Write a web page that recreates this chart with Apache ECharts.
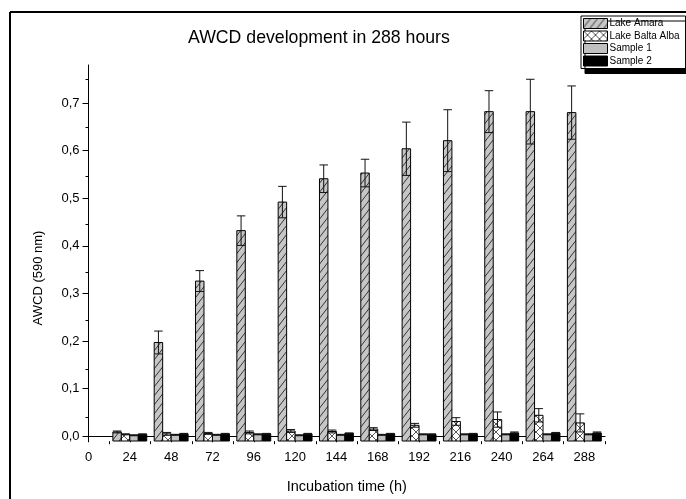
<!DOCTYPE html>
<html><head><meta charset="utf-8">
<script src="https://cdn.jsdelivr.net/npm/echarts@6/dist/echarts.min.js"></script>
<style>html,body{margin:0;padding:0;background:#fff}#c{width:686px;height:499px}</style>
</head><body><div id="c"></div>
<script>
// ---- data ----
const hours = [24, 48, 72, 96, 120, 144, 168, 192, 216, 240, 264, 288];
const xTickLabels = [0, 24, 48, 72, 96, 120, 144, 168, 192, 216, 240, 264, 288];
const xMinorTicks = [12, 36, 60, 84, 108, 132, 156, 180, 204, 228, 252, 276, 300];
const yTickLabels = [0, 0.1, 0.2, 0.3, 0.4, 0.5, 0.6, 0.7];
const yMinorTicks = [0.05, 0.15, 0.25, 0.35, 0.45, 0.55, 0.65, 0.75];

const lakeAmara      = [0.009, 0.197, 0.326, 0.432, 0.492, 0.541, 0.553, 0.604, 0.621, 0.682, 0.682, 0.680];
const lakeAmaraErr   = [0.002, 0.024, 0.022, 0.031, 0.033, 0.029, 0.029, 0.056, 0.065, 0.044, 0.068, 0.056];
const lakeBalta      = [0.004, 0.005, 0.006, 0.008, 0.011, 0.010, 0.015, 0.023, 0.031, 0.035, 0.044, 0.028];
const lakeBaltaErr   = [0.001, 0.003, 0.002, 0.003, 0.003, 0.003, 0.003, 0.004, 0.008, 0.016, 0.014, 0.019];
const sample1        = [0.002, 0.003, 0.003, 0.004, 0.002, 0.003, 0.003, 0.004, 0.004, 0.004, 0.004, 0.004];
const sample1Err     = [0.001, 0.001, 0.001, 0.001, 0.001, 0.001, 0.001, 0.001, 0.001, 0.001, 0.001, 0.001];
const sample2        = [0.004, 0.005, 0.005, 0.005, 0.005, 0.006, 0.005, 0.004, 0.005, 0.007, 0.007, 0.007];
const sample2Err     = [0.001, 0.001, 0.001, 0.001, 0.001, 0.001, 0.001, 0.001, 0.001, 0.002, 0.001, 0.002];

const seriesNames = ['Lake Amara', 'Lake Balta Alba', 'Sample 1', 'Sample 2'];

// ---- patterns ----
function hatch() {
  const c = document.createElement('canvas'); c.width = 7; c.height = 9;
  const g = c.getContext('2d');
  g.fillStyle = '#c6c6c6'; g.fillRect(0, 0, 7, 9);
  g.strokeStyle = '#333'; g.lineWidth = 1;
  g.beginPath();
  g.moveTo(-7, 9); g.lineTo(0, 0);
  g.moveTo(0, 9); g.lineTo(7, 0);
  g.moveTo(7, 9); g.lineTo(14, 0);
  g.stroke();
  return { image: c, repeat: 'repeat' };
}
function cross() {
  const c = document.createElement('canvas'); c.width = 8; c.height = 8;
  const g = c.getContext('2d');
  g.fillStyle = '#fff'; g.fillRect(0, 0, 8, 8);
  g.strokeStyle = '#555'; g.lineWidth = 1;
  g.beginPath();
  g.moveTo(0, 0); g.lineTo(8, 8);
  g.moveTo(0, 8); g.lineTo(8, 0);
  g.stroke();
  return { image: c, repeat: 'repeat' };
}
const fills = [hatch(), cross(), '#c0c0c0', '#000'];
const yMin = -0.01, yMax = 0.78;

function makeRender(k, fill) {
  return function (params, api) {
    const x = api.value(0), v = api.value(1), e = api.value(2);
    const band = api.size([24, 0])[0];
    const w = band * 0.205;
    const p = api.coord([x, v]);
    const left = p[0] - 2 * w + k * w;
    const top = p[1];
    const base = api.coord([x, yMin])[1];
    const hi = api.coord([x, v + e])[1];
    const lo = api.coord([x, v - e])[1];
    const mid = left + w / 2;
    const ls = { stroke: '#111', lineWidth: 1 };
    return {
      type: 'group', children: [
        { type: 'rect', shape: { x: left, y: top, width: w, height: base - top }, style: { fill: fill, stroke: '#000', lineWidth: 1 } },
        { type: 'line', shape: { x1: mid, y1: lo, x2: mid, y2: hi }, style: ls },
        { type: 'line', shape: { x1: left, y1: hi, x2: left + w, y2: hi }, style: ls },
        { type: 'line', shape: { x1: left, y1: lo, x2: left + w, y2: lo }, style: ls }
      ]
    };
  };
}

const valueSets = [lakeAmara, lakeBalta, sample1, sample2];
const errSets = [lakeAmaraErr, lakeBaltaErr, sample1Err, sample2Err];

const series = seriesNames.map((name, k) => ({
  name: name,
  type: 'custom',
  xAxisIndex: 0, yAxisIndex: 0,
  itemStyle: { color: fills[k], borderColor: '#000', borderWidth: 1 },
  renderItem: makeRender(k, fills[k]),
  encode: { x: 0, y: 1 },
  data: hours.map((h, i) => [h, valueSets[k][i], errSets[k][i]])
}));

const chart = echarts.init(document.getElementById('c'), null, { renderer: 'canvas' });
const font = 'Liberation Sans, Arial, sans-serif';
const fmt = v => v.toFixed(1).replace('.', ',');

chart.setOption({
  animation: false,
  backgroundColor: '#fff',
  textStyle: { fontFamily: font, color: '#000' },
  title: {
    text: 'AWCD development in 288 hours',
    left: 188, top: 29, padding: 0,
    textStyle: { fontFamily: font, fontSize: 17.7, fontWeight: 'normal', color: '#000' }
  },
  legend: {
    orient: 'vertical', left: 581, top: 16,
    padding: [2, 6, 2, 2], itemGap: 1.5,
    itemWidth: 24, itemHeight: 10,
    backgroundColor: '#fff', borderColor: '#000', borderWidth: 1, borderRadius: 0,
    shadowColor: '#000', shadowBlur: 0, shadowOffsetX: 4, shadowOffsetY: 5,
    textStyle: { fontFamily: font, fontSize: 10, color: '#000', padding: [0, 0, 0, -3] },
    data: seriesNames.map((n, k) => ({ name: n, icon: 'rect', itemStyle: { color: fills[k], borderColor: '#000', borderWidth: 1 } }))
  },
  grid: [
    { left: 88.5, right: 81, top: 65, bottom: 53, containLabel: false },
    { left: 88.5, right: 81, top: 65, bottom: 53, containLabel: false }
  ],
  xAxis: [
    {
      type: 'value', gridIndex: 0, min: 0, max: 300,
      name: 'Incubation time (h)', nameLocation: 'middle', nameGap: 38,
      nameTextStyle: { fontFamily: font, fontSize: 14.5, color: '#000' },
      axisLine: { show: true, lineStyle: { color: '#000', width: 1 } },
      axisTick: { show: true, customValues: xTickLabels, length: 6, lineStyle: { color: '#000' } },
      axisLabel: { customValues: xTickLabels, fontSize: 13, color: '#000', margin: 10, fontFamily: font },
      splitLine: { show: false }
    },
    {
      type: 'value', gridIndex: 1, min: 0, max: 300, position: 'bottom',
      axisLine: { show: false },
      axisTick: { show: true, customValues: xMinorTicks, length: 3, lineStyle: { color: '#000' } },
      axisLabel: { show: false }, splitLine: { show: false }
    }
  ],
  yAxis: [
    {
      type: 'value', gridIndex: 0, min: yMin, max: yMax,
      axisLine: { show: true, lineStyle: { color: '#000', width: 1 } },
      axisTick: { show: true, customValues: yTickLabels, length: 6, lineStyle: { color: '#000' } },
      axisLabel: { customValues: yTickLabels, formatter: fmt, fontSize: 13, color: '#000', margin: 9, fontFamily: font },
      splitLine: { show: false }
    },
    {
      type: 'value', gridIndex: 1, min: yMin, max: yMax, position: 'left',
      axisLine: { show: false },
      axisTick: { show: true, customValues: yMinorTicks, length: 3, lineStyle: { color: '#000' } },
      axisLabel: { show: false }, splitLine: { show: false }
    }
  ],
  graphic: [
    { type: 'line', shape: { x1: 10, y1: 12, x2: 686, y2: 12 }, style: { stroke: '#000', lineWidth: 2 }, z: -1 },
    { type: 'line', shape: { x1: 10, y1: 12, x2: 10, y2: 499 }, style: { stroke: '#000', lineWidth: 2 }, z: -1 },
    { type: 'text', x: 38, y: 278, rotation: Math.PI / 2,
      style: { text: 'AWCD (590 nm)', font: '13px ' + font, fill: '#000', align: 'center', verticalAlign: 'middle' } }
  ],
  series: series
});
</script>
</body></html>
